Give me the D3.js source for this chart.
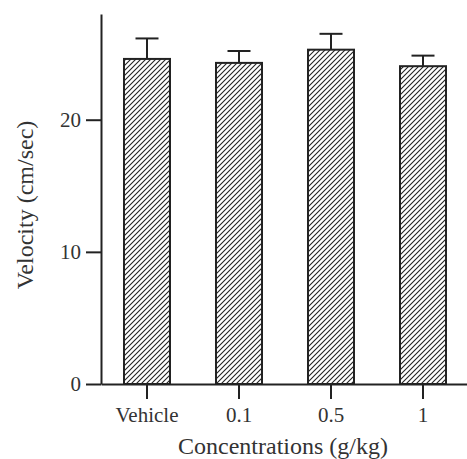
<!DOCTYPE html>
<html>
<head>
<meta charset="utf-8">
<script src="https://cdn.jsdelivr.net/npm/d3@7"></script>
<style>
  body { margin: 0; background: #fff; }
  svg text { font-family: "Liberation Serif", "Times New Roman", serif; fill: #333; }
</style>
</head>
<body>
<div id="chart"></div>
<script>
// values
const groups = ["Vehicle", "0.1", "0.5", "1"];
const velocity = [24.6, 24.3, 25.3, 24.05];
const sem = [1.55, 0.9, 1.2, 0.8];
const yTicks = [0, 10, 20];

const WIDTH = 467, HEIGHT = 459;
const svg = d3.select("#chart")
              .append("svg")
                .attr("width", WIDTH)
                .attr("height", HEIGHT);

// hatch fill for the bars
svg.append("defs")
   .append("pattern")
     .attr("id", "hatch")
     .attr("patternUnits", "userSpaceOnUse")
     .attr("width", 5)
     .attr("height", 5)
   .append("path")
     .attr("d", "M0,5 L5,0 M-1,1 L1,-1 M4,6 L6,4")
     .attr("stroke", "#222")
     .attr("stroke-width", 1.1);

const x = d3.scaleBand()
            .domain(groups)
            .range([101, 469])
            .paddingInner(0.5)
            .paddingOuter(0.25);

const y = d3.scaleLinear()
            .domain([0, 28])
            .range([384, 14]);

// bars
svg.selectAll("rect.bar")
   .data(groups)
   .join("rect")
     .attr("class", "bar")
     .attr("x", d => x(d))
     .attr("y", (d, i) => y(velocity[i]))
     .attr("width", x.bandwidth())
     .attr("height", (d, i) => y(0) - y(velocity[i]))
     .attr("fill", "url(#hatch)")
     .attr("stroke", "#222")
     .attr("stroke-width", 2);

// error bars, upward only
const err = svg.append("g")
               .attr("stroke", "#222")
               .attr("stroke-width", 2);
groups.forEach((g, i) => {
    const cx = x(g) + x.bandwidth() / 2;
    err.append("line")
       .attr("x1", cx).attr("x2", cx)
       .attr("y1", y(velocity[i])).attr("y2", y(velocity[i] + sem[i]));
    err.append("line")
       .attr("x1", cx - 11.5).attr("x2", cx + 11.5)
       .attr("y1", y(velocity[i] + sem[i])).attr("y2", y(velocity[i] + sem[i]));
});

// axes
const yAxis = svg.append("g")
   .attr("transform", "translate(101,0)")
   .call(d3.axisLeft(y).tickValues(yTicks).tickSize(15).tickSizeOuter(0).tickPadding(5));
yAxis.selectAll("text").style("font-size", "21px").attr("fill", "#333");

const xAxis = svg.append("g")
   .attr("transform", "translate(0,384)")
   .call(d3.axisBottom(x).tickSize(15).tickSizeOuter(0).tickPadding(8));
xAxis.selectAll("text").style("font-size", "21px").attr("fill", "#333");

svg.selectAll(".domain, .tick line")
   .attr("stroke", "#222")
   .attr("stroke-width", 2);

// axis titles
svg.append("text")
   .attr("x", 283)
   .attr("y", 454)
   .attr("text-anchor", "middle")
   .style("font-size", "24px")
   .text("Concentrations (g/kg)");

svg.append("text")
   .attr("transform", "translate(33,205) rotate(-90)")
   .attr("text-anchor", "middle")
   .style("font-size", "24px")
   .text("Velocity (cm/sec)");
</script>
</body>
</html>
